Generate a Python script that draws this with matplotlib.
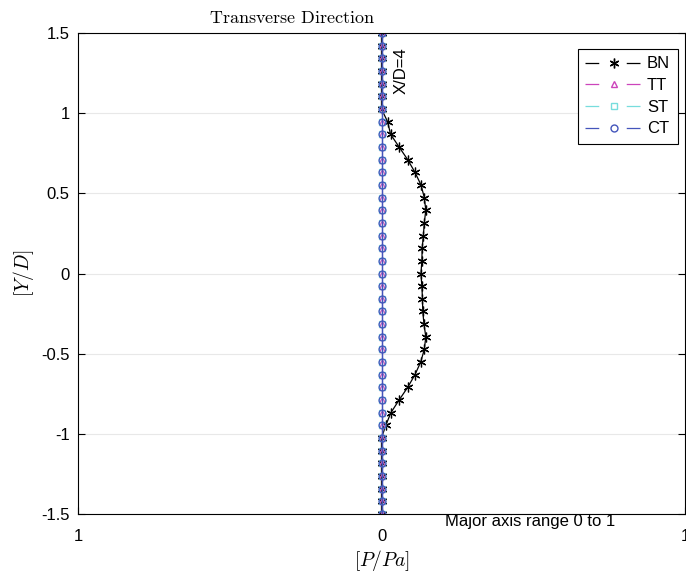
import numpy as np
import matplotlib.pyplot as plt
from matplotlib.lines import Line2D

plt.rcParams['font.family'] = ['Liberation Sans', 'DejaVu Sans']
plt.rcParams['mathtext.fontset'] = 'cm'

Y = [-1.5, -1.421, -1.342, -1.263, -1.184, -1.105, -1.026, -0.947, -0.868,
     -0.789, -0.711, -0.632, -0.553, -0.474, -0.395, -0.316, -0.237, -0.158,
     -0.079, 0.0, 0.079, 0.158, 0.237, 0.316, 0.395, 0.474, 0.553, 0.632,
     0.711, 0.789, 0.868, 0.947, 1.026, 1.105, 1.184, 1.263, 1.342, 1.421, 1.5]
# BN listed from top (Y=1.5) to bottom
BN_top_down = [0, 0, 0, 0, 0, 0, 0, 0.02, 0.03, 0.058, 0.086, 0.11, 0.13,
               0.141, 0.146, 0.141, 0.138, 0.134, 0.133, 0.130, 0.133, 0.135,
               0.136, 0.140, 0.146, 0.141, 0.129, 0.11, 0.086, 0.058, 0.031,
               0.014, 0, 0, 0, 0, 0, 0, 0]
BN = BN_top_down[::-1]
TT = [0] * 39
ST = [0] * 39
CT = [0] * 39

names = ['BN', 'TT', 'ST', 'CT']
colors = ['black', '#cc44bb', '#77dddd', '#4455bb']
markers = [(6, 2, 0), '^', 's', 'o']
sizes = [7, 5, 4, 5]

fig = plt.figure(figsize=(6.86, 5.77), dpi=100)
ax = fig.add_axes([78/686, 63/577, 607/686, 481/577])

for xs, c, m, s in zip([BN, TT, ST, CT], colors, markers, sizes):
    ax.plot(xs, Y, '-', color=c, lw=0.9, marker=m, ms=s, mfc='none', mec=c, mew=0.9)

ax.set_xlim(-1, 1)
ax.set_ylim(-1.5, 1.5)
ax.set_xticks([-1, 0, 1])
ax.set_xticklabels(['1', '0', '1'])
ax.set_yticks([-1.5, -1, -0.5, 0, 0.5, 1, 1.5])
ax.set_yticklabels(['-1.5', '-1', '-0.5', '0', '0.5', '1', '1.5'])
ax.tick_params(labelsize=12, direction='in', right=True, length=5, pad=6)
ax.tick_params(axis='x', pad=11)
ax.yaxis.grid(True, color='#e8e8e8', lw=0.8)
ax.set_axisbelow(True)

ax.text(0.352, 1.012, r'$\mathrm{Transverse\ Direction}$', transform=ax.transAxes,
        ha='center', va='bottom', fontsize=13)
ax.set_ylabel(r'$[Y/D]$', fontsize=14, labelpad=4)
ax.set_xlabel(r'$[P/Pa]$', fontsize=14, labelpad=3)

ax.text(0.064, 1.265, 'X/D=4', rotation=90, ha='center', va='center', fontsize=12)
ax.text(0.21, -1.545, 'Major axis range 0 to 1', ha='left', va='center', fontsize=12, clip_on=False)

handles = [Line2D([], [], color=c, lw=0.9, marker=m, ms=s, mfc='none', mec=c,
                  dashes=(11, 22)) for c, m, s in zip(colors, markers, sizes)]
leg = ax.legend(handles, names, loc='upper right', bbox_to_anchor=(0.988, 0.967),
                borderaxespad=0, fontsize=12, fancybox=False, edgecolor='black',
                framealpha=1, handlelength=3.4, handletextpad=0.3,
                borderpad=0.45, labelspacing=0.4)
leg.get_frame().set_linewidth(0.8)

plt.savefig('out.png', dpi=100)
